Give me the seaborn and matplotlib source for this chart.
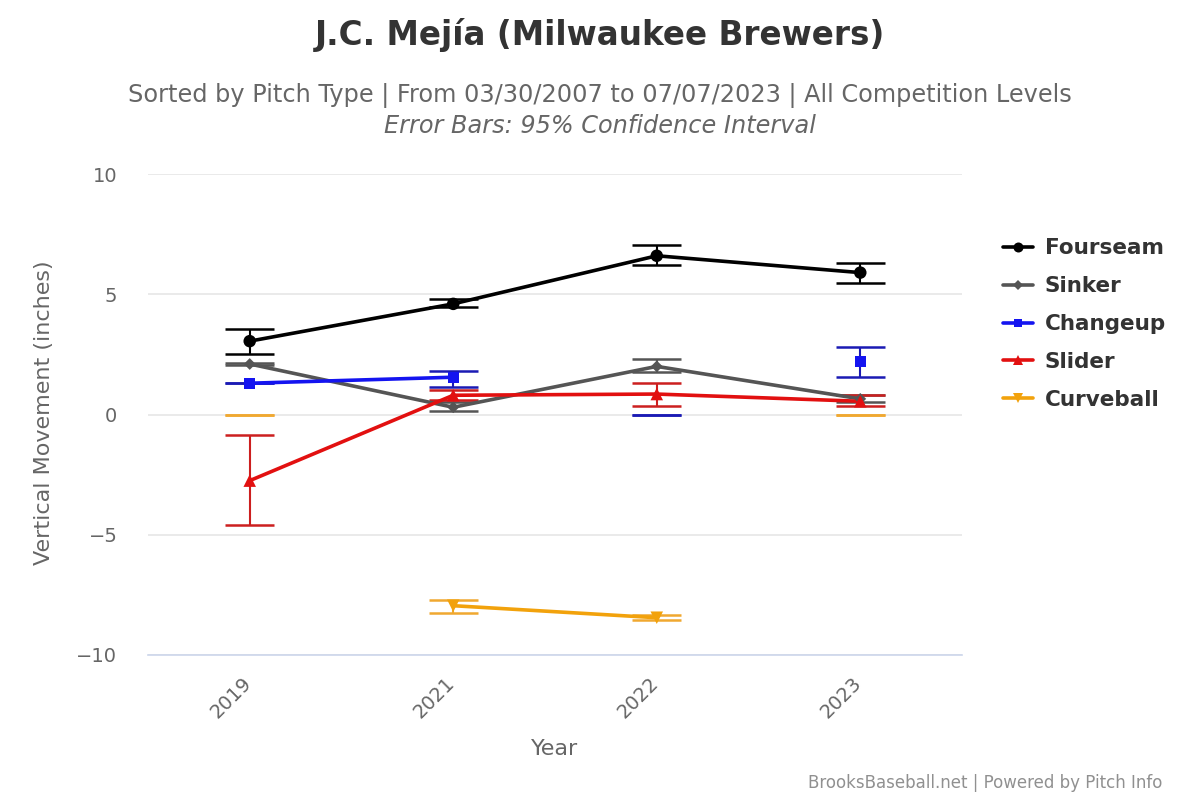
import matplotlib
matplotlib.use("Agg")
import matplotlib.pyplot as plt
import matplotlib.transforms as mtransforms
from matplotlib.lines import Line2D
import numpy as np
import pandas as pd
import seaborn as sns

# data
years = ["2019", "2021", "2022", "2023"]
pitches = ["Fourseam", "Sinker", "Changeup", "Slider", "Curveball"]

fourseam = [3.05, 4.6, 6.6, 5.9]
fourseam_lo = [2.5, 4.45, 6.2, 5.45]
fourseam_hi = [3.55, 4.8, 7.05, 6.3]

sinker = [2.1, 0.3, 2.0, 0.65]
sinker_lo = [2.05, 0.15, 1.75, 0.5]
sinker_hi = [2.15, 0.5, 2.3, 0.8]

changeup = [1.3, 1.55, None, 2.2]
changeup_lo = [1.3, 1.15, 0.0, 1.55]
changeup_hi = [1.3, 1.8, 0.0, 2.8]

slider = [-2.75, 0.8, 0.85, 0.55]
slider_lo = [-4.6, 0.6, 0.35, 0.35]
slider_hi = [-0.85, 1.0, 1.3, 0.8]

curveball = [None, -7.95, -8.45, None]
curveball_lo = [0.0, -8.25, -8.55, 0.0]
curveball_hi = [0.0, -7.7, -8.35, 0.0]

colors = {"Fourseam": "#000000", "Sinker": "#555555", "Changeup": "#1414f0",
          "Slider": "#e21010", "Curveball": "#f2a20c"}
err_colors = {"Fourseam": "#000000", "Sinker": "#555555", "Changeup": "#1a1ab4",
              "Slider": "#cc1f1f", "Curveball": "#f0a830"}
markers = {"Fourseam": "o", "Sinker": "D", "Changeup": "s", "Slider": "^", "Curveball": "v"}
msizes = {"Fourseam": 9, "Sinker": 6, "Changeup": 8, "Slider": 9, "Curveball": 9}

series = {
    "Fourseam": (fourseam, fourseam_lo, fourseam_hi),
    "Sinker": (sinker, sinker_lo, sinker_hi),
    "Changeup": (changeup, changeup_lo, changeup_hi),
    "Slider": (slider, slider_lo, slider_hi),
    "Curveball": (curveball, curveball_lo, curveball_hi),
}

sns.set_theme(style="white")
plt.rcParams["font.family"] = ["DejaVu Sans"]

fig = plt.figure(figsize=(12, 8), dpi=100)
ax = fig.add_axes([0.1233, 0.18125, 0.6784, 0.60125])

xpos = np.arange(len(years))
for name in pitches:
    vals, lo, hi = series[name]
    v = np.array([np.nan if x is None else x for x in vals], dtype=float)
    lo = np.array(lo)
    hi = np.array(hi)
    # error bars (95% CI)
    ax.vlines(xpos, lo, hi, color=err_colors[name], lw=1.5, zorder=2)
    for x, l, h in zip(xpos, lo, hi):
        ax.hlines([l, h], x - 0.12, x + 0.12, color=err_colors[name], lw=1.8, zorder=2)
    df = pd.DataFrame({"x": xpos, "y": v})
    ax.plot(df["x"], df["y"], color=colors[name], lw=2.6, zorder=3)
    sns.scatterplot(data=df.dropna(), x="x", y="y", ax=ax, color=colors[name],
                    marker=markers[name], s=msizes[name] ** 2, edgecolor="none",
                    zorder=4, legend=False)

ax.set_xlim(-0.5, 3.5)
ax.set_ylim(-10, 10)
ax.set_yticks([-10, -5, 0, 5, 10])
ax.set_yticklabels(["\u221210", "\u22125", "0", "5", "10"])
ax.set_xticks(xpos)
ax.set_xticklabels(years, rotation=45, ha="right", va="top", rotation_mode="anchor")
ax.tick_params(axis="both", labelsize=14, colors="#666666", length=0)
ax.tick_params(axis="x", pad=13)
ax.tick_params(axis="y", pad=22)
shift = mtransforms.ScaledTranslation(-8 / 100, 0, fig.dpi_scale_trans)
for lab in ax.get_xticklabels():
    lab.set_transform(lab.get_transform() + shift)
ax.grid(axis="y", color="#e6e6e6", lw=1.2)
ax.grid(axis="x", visible=False)
for s in ["top", "right", "left"]:
    ax.spines[s].set_visible(False)
ax.spines["bottom"].set_color("#ccd6eb")
ax.spines["bottom"].set_linewidth(1.2)
ax.set_xlabel("")
ax.set_ylabel("")

fig.text(555 / 1200, 1 - 749 / 800, "Year", ha="center", va="center",
         fontsize=16, color="#666666")
fig.text(44 / 1200, 1 - 413 / 800, "Vertical Movement (inches)", ha="center", va="center",
         rotation=90, fontsize=16, color="#666666")

fig.text(0.5, 0.956, "J.C. Mejía (Milwaukee Brewers)", ha="center", va="center",
         fontsize=23.5, fontweight="bold", color="#333333")
fig.text(0.5, 0.88, "Sorted by Pitch Type | From 03/30/2007 to 07/07/2023 | All Competition Levels",
         ha="center", va="center", fontsize=17.3, color="#666666")
fig.text(0.5, 0.843, "Error Bars: 95% Confidence Interval", ha="center", va="center",
         fontsize=17.3, color="#666666", style="italic")
fig.text(0.969, 0.021, "BrooksBaseball.net | Powered by Pitch Info", ha="right", va="center",
         fontsize=12, color="#909090")

handles = [Line2D([0], [0], color=colors[n], lw=2.6, marker=markers[n],
                  markersize=msizes[n] * 0.8, markeredgewidth=0) for n in pitches]
leg = fig.legend(handles, pitches, loc="upper left", bbox_to_anchor=(0.8355, 0.702),
                 frameon=False, fontsize=15.5, handlelength=1.4, handletextpad=0.55,
                 labelspacing=0.83, borderpad=0, borderaxespad=0)
for t in leg.get_texts():
    t.set_fontweight("bold")
    t.set_color("#333333")

fig.savefig("out.png", dpi=100)
